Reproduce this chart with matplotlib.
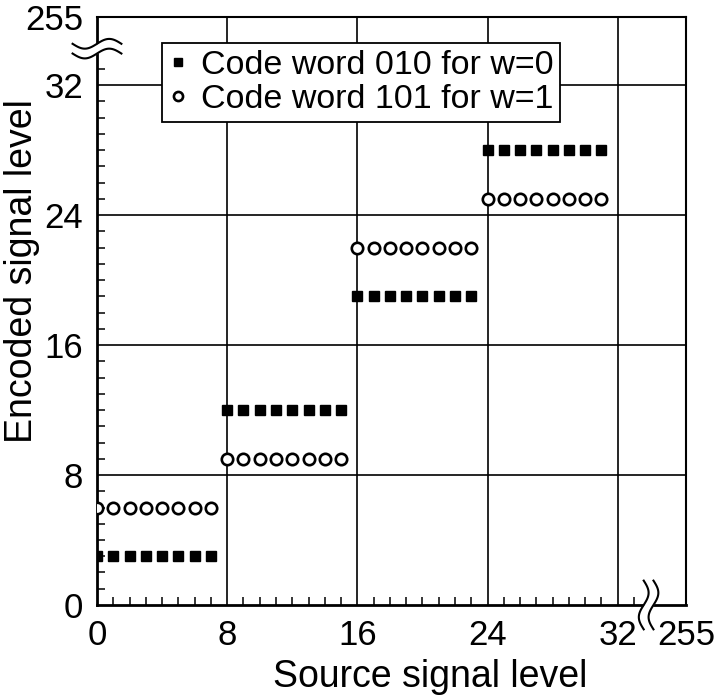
import numpy as np
import matplotlib.pyplot as plt

plt.rcParams['font.family'] = ['Liberation Sans', 'DejaVu Sans']

# source signal levels 0..31
source_level = [0, 1, 2, 3, 4, 5, 6, 7,
                8, 9, 10, 11, 12, 13, 14, 15,
                16, 17, 18, 19, 20, 21, 22, 23,
                24, 25, 26, 27, 28, 29, 30, 31]
# encoded level, code word 010 (w=0)
enc_w0 = [3, 3, 3, 3, 3, 3, 3, 3,
          12, 12, 12, 12, 12, 12, 12, 12,
          19, 19, 19, 19, 19, 19, 19, 19,
          28, 28, 28, 28, 28, 28, 28, 28]
# encoded level, code word 101 (w=1)
enc_w1 = [6, 6, 6, 6, 6, 6, 6, 6,
          9, 9, 9, 9, 9, 9, 9, 9,
          22, 22, 22, 22, 22, 22, 22, 22,
          25, 25, 25, 25, 25, 25, 25, 25]

label_w0 = 'Code word 010 for w=0'
label_w1 = 'Code word 101 for w=1'

grid_vals = [8, 16, 24, 32]
axis_top = 36.2          # where the "255" label sits
tick_pos = [0, 8, 16, 24, 32, axis_top]
tick_labels = ['0', '8', '16', '24', '32', '255']

fig = plt.figure(figsize=(7.2, 6.99), dpi=100)
ax = fig.add_axes([0.1347, 0.1345, 0.8181, 0.8412])

ax.plot(source_level, enc_w0, ls='none', marker='s', ms=7.2, color='black',
        mec='black', label=label_w0, zorder=4)
ax.plot(source_level, enc_w1, ls='none', marker='o', ms=8.2, mfc='white',
        mec='black', mew=1.9, label=label_w1, zorder=4)

ax.set_xlim(0, axis_top)
ax.set_ylim(0, axis_top)

for v in grid_vals:
    ax.axvline(v, color='black', lw=1.2, zorder=1)
    ax.axhline(v, color='black', lw=1.2, zorder=1)

ax.set_xticks(tick_pos)
ax.set_xticklabels(tick_labels)
ax.set_yticks(tick_pos)
ax.set_yticklabels(tick_labels)
ax.set_xticks([i for i in range(1, 34) if i % 8 != 0], minor=True)
ax.set_yticks([i for i in range(1, 34) if i % 8 != 0], minor=True)
ax.tick_params(which='major', length=0, pad=10, labelsize=25)
ax.tick_params(which='minor', direction='in', length=6, width=1.1)

for side in ['left', 'bottom']:
    ax.spines[side].set_linewidth(2.0)
for side in ['top', 'right']:
    ax.spines[side].set_linewidth(1.5)

ax.text(0.565, -0.139, 'Source signal level', transform=ax.transAxes,
        ha='center', va='baseline', fontsize=27)
ax.text(-0.110, 0.568, 'Encoded signal level', transform=ax.transAxes,
        ha='center', va='baseline', rotation=90, rotation_mode='anchor',
        fontsize=27)

# axis break marks
t = np.linspace(0, 1, 60)
amp = 0.3
# y axis break (horizontal tildes)
bx = -1.5 + 3.0 * t
by1 = 34.55 - amp * np.sin(2 * np.pi * t)
by2 = 33.95 - amp * np.sin(2 * np.pi * t)
ax.fill_between(bx, by2, by1, color='white', clip_on=False, zorder=6, lw=0)
ax.plot(bx, by1, color='black', lw=1.5, clip_on=False, zorder=7)
ax.plot(bx, by2, color='black', lw=1.5, clip_on=False, zorder=7)
# x axis break (vertical tildes)
cy = -1.5 + 3.0 * t
cx1 = 33.6 - amp * np.sin(2 * np.pi * t)
cx2 = 34.2 - amp * np.sin(2 * np.pi * t)
ax.fill_betweenx(cy, cx1, cx2, color='white', clip_on=False, zorder=6, lw=0)
ax.plot(cx1, cy, color='black', lw=1.5, clip_on=False, zorder=7)
ax.plot(cx2, cy, color='black', lw=1.5, clip_on=False, zorder=7)

leg = ax.legend(loc='upper left', bbox_to_anchor=(0.110, 0.956),
                borderaxespad=0, fontsize=24.5, frameon=True, fancybox=False,
                framealpha=1, edgecolor='black', handlelength=0.55,
                handletextpad=0.4, borderpad=0.2, labelspacing=0.1,
                markerscale=0.8)
leg.get_frame().set_linewidth(1.3)
leg.set_zorder(8)

fig.savefig('out.png', dpi=100)
